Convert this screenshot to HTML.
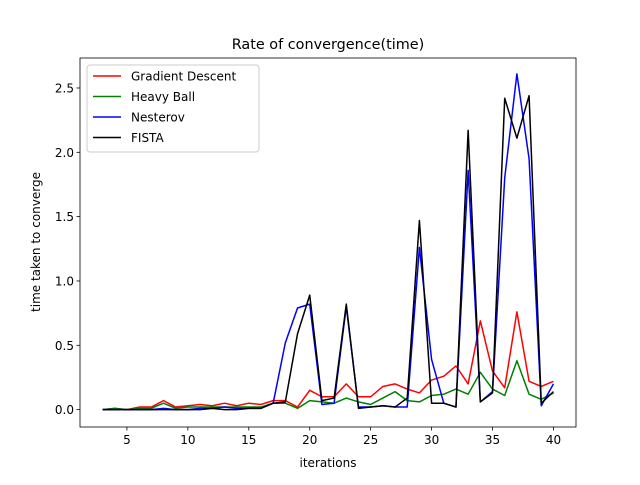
<!DOCTYPE html>
<html><head><meta charset="utf-8"><style>
body{margin:0;background:#fff}
svg{font-family:"DejaVu Sans","Liberation Sans",sans-serif}
</style></head><body>
<svg id="c" width="640" height="480"></svg>
<script>
const iterations=[3,4,5,6,7,8,9,10,11,12,13,14,15,16,17,18,19,20,21,22,23,24,25,26,27,28,29,30,31,32,33,34,35,36,37,38,39,40];
const gradientDescent=[0.0,0.01,0.0,0.02,0.02,0.07,0.02,0.03,0.04,0.03,0.05,0.03,0.05,0.04,0.07,0.07,0.02,0.15,0.1,0.1,0.2,0.1,0.1,0.18,0.2,0.16,0.13,0.23,0.26,0.34,0.2,0.69,0.3,0.17,0.76,0.22,0.18,0.22];
const heavyBall=[0.0,0.01,0.0,0.01,0.01,0.05,0.01,0.02,0.02,0.02,0.02,0.02,0.02,0.02,0.05,0.05,0.01,0.07,0.06,0.05,0.09,0.06,0.04,0.09,0.14,0.07,0.06,0.11,0.12,0.16,0.12,0.29,0.16,0.11,0.38,0.12,0.08,0.13];
const nesterov=[0.0,0.0,0.0,0.0,0.0,0.01,0.0,0.0,0.01,0.01,0.02,0.01,0.01,0.01,0.05,0.52,0.79,0.82,0.04,0.05,0.8,0.02,0.02,0.03,0.02,0.02,1.26,0.39,0.05,0.02,1.86,0.06,0.14,1.8,2.61,1.95,0.03,0.2];
const fista=[0.0,0.0,0.0,0.0,0.0,0.0,0.0,0.0,0.0,0.01,0.0,0.0,0.01,0.01,0.05,0.06,0.59,0.89,0.07,0.09,0.82,0.01,0.02,0.03,0.02,0.09,1.47,0.05,0.05,0.02,2.17,0.06,0.13,2.42,2.11,2.44,0.05,0.14];
const xTicks=[5,10,15,20,25,30,35,40];
const yTicks=[0,0.5,1,1.5,2,2.5];
const seriesNames=["Gradient Descent","Heavy Ball","Nesterov","FISTA"];
const seriesColors=["#ff0000","#008000","#0000ff","#000000"];
const L=80,R=576,T=58,B=427,xmin=1.15,xmax=41.85,ymin=-0.135,ymax=2.733;
const sx=v=>L+(v-xmin)/(xmax-xmin)*(R-L);
const sy=v=>B-(v-ymin)/(ymax-ymin)*(B-T);
const svg=document.getElementById('c');const NS="http://www.w3.org/2000/svg";
function mk(t,a,p){const e=document.createElementNS(NS,t);for(const k in a)e.setAttribute(k,a[k]);(p||svg).appendChild(e);return e;}
const series=[gradientDescent,heavyBall,nesterov,fista];
series.forEach((s,i)=>{
 const p=mk('polyline',{points:s.map((v,j)=>sx(iterations[j])+','+sy(v)).join(' '),fill:'none',stroke:seriesColors[i],'stroke-width':1.5,'stroke-linejoin':'round'});
 
 
});
const fr=mk('rect',{x:L,y:T,width:R-L,height:B-T,fill:'none',stroke:'#000','stroke-width':0.8});


xTicks.forEach(v=>{const x=sx(v);mk('line',{x1:x,x2:x,y1:B,y2:B+3.5,stroke:'#000','stroke-width':0.8});
 const t=mk('text',{x:x,y:B+17,'text-anchor':'middle','font-size':12});t.textContent=v;
 
 });
yTicks.forEach(v=>{const y=sy(v);mk('line',{x1:L-3.5,x2:L,y1:y,y2:y,stroke:'#000','stroke-width':0.8});
 const t=mk('text',{x:L-6,y:y+4.5,'text-anchor':'end','font-size':12});t.textContent=v.toFixed(1);
 
 });
const tt=mk('text',{x:328,y:49,'text-anchor':'middle','font-size':14.4});tt.textContent='Rate of convergence(time)';


const xl=mk('text',{x:328,y:467,'text-anchor':'middle','font-size':12});xl.textContent='iterations';


const yl=mk('text',{x:40,y:242,'text-anchor':'middle','font-size':12,transform:'rotate(-90 40 242)'});yl.textContent='time taken to converge';


const lg=mk('g',{});


mk('rect',{x:87,y:65,width:172,height:87,rx:3,fill:'#fff',stroke:'#ccc','stroke-width':1},lg);
seriesNames.forEach((n,i)=>{const y=76+i*20.5;
 mk('line',{x1:93,x2:121,y1:y,y2:y,stroke:seriesColors[i],'stroke-width':1.5},lg);
 const t=mk('text',{x:131,y:y+4.5,'font-size':12},lg);t.textContent=n;
 
 });
</script>
</body></html>
